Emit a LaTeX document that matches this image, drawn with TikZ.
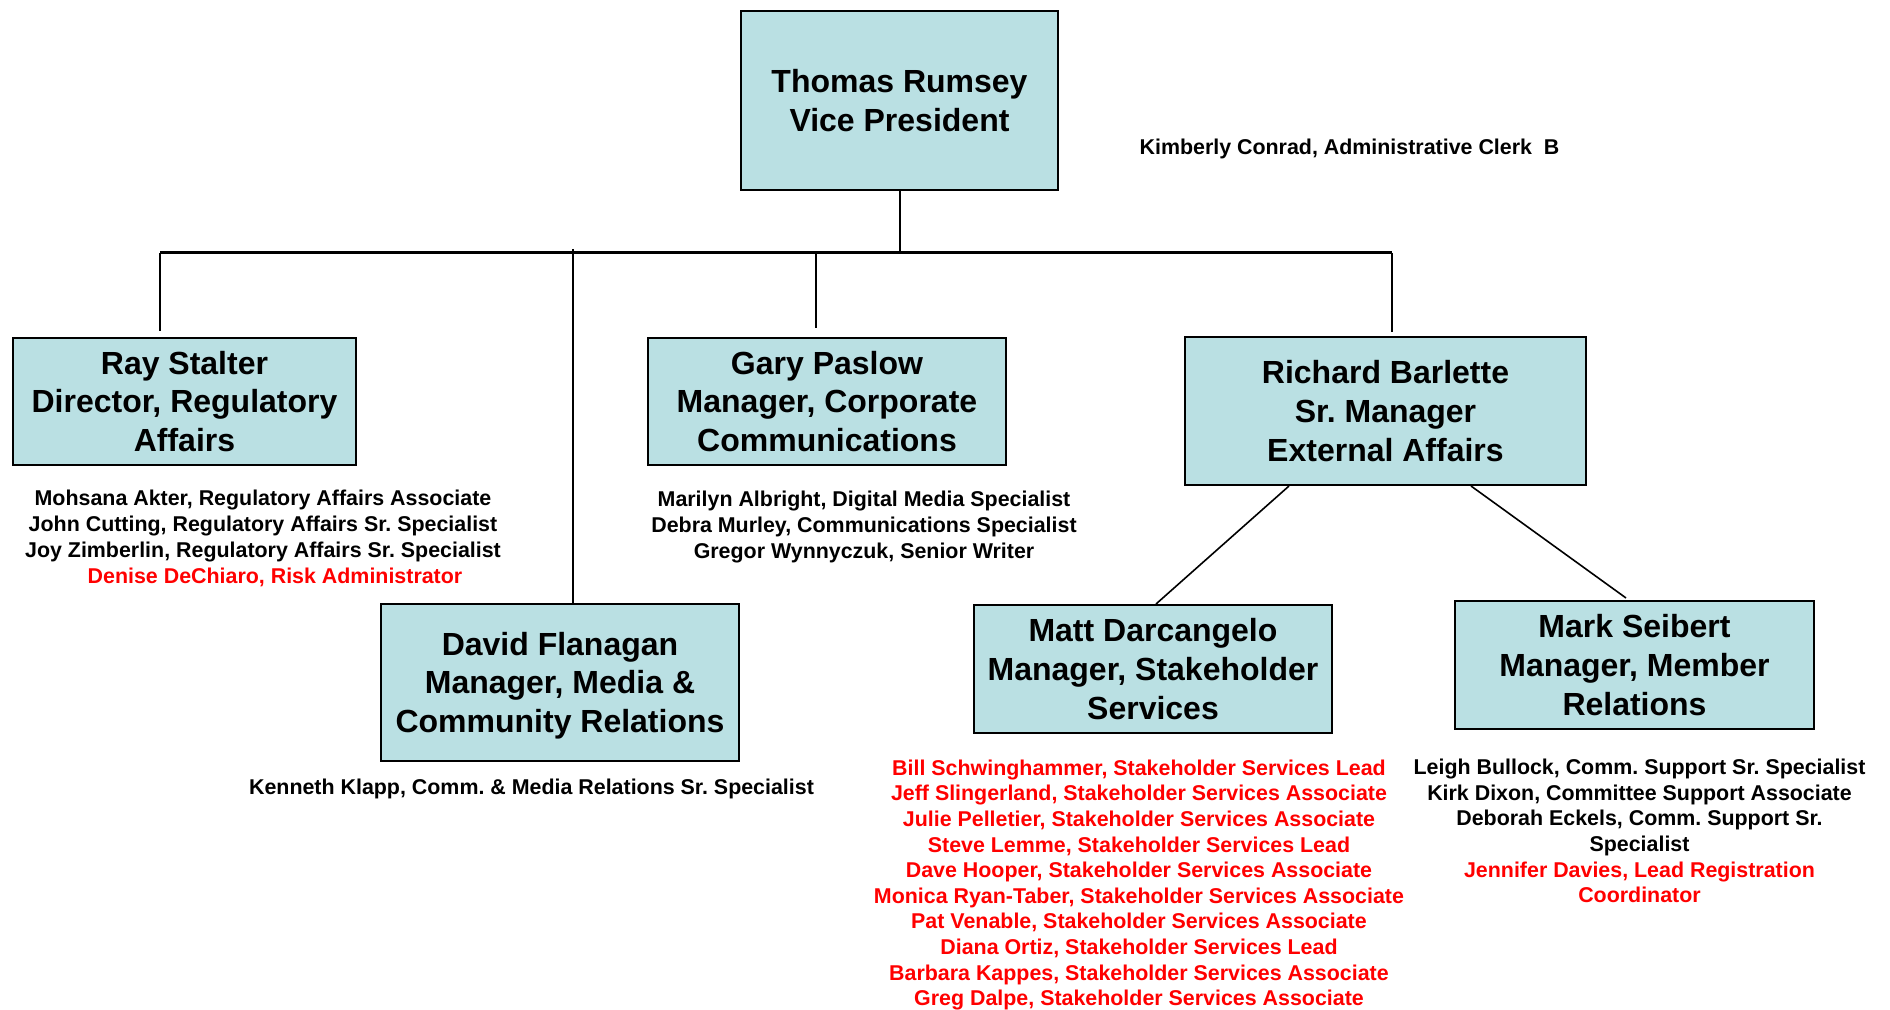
\documentclass[tikz,border=0pt]{standalone}
\usepackage{fontspec}
\setmainfont{Liberation Sans}
\usetikzlibrary{positioning}
\definecolor{boxfill}{RGB}{186,224,227}
\definecolor{staffred}{RGB}{255,0,0}
\frenchspacing

\begin{document}
\begin{tikzpicture}[x=0.5pt,y=-0.5pt,
    post/.style = {align=center, text centered,
        font=\bfseries\fontsize{16}{19.3}\selectfont,rectangle,draw=black,
        fill=boxfill,line width=1pt,inner sep=0pt},
    staff/.style = {align=center, text centered,
        font=\bfseries\fontsize{10.7}{13.1}\selectfont,inner sep=0pt},
    tightstaff/.style = {staff, font=\bfseries\fontsize{10.7}{12.8}\selectfont},
    link/.style = {line width=1pt}, bus/.style = {line width=1.5pt}]
  \useasboundingbox (0,0) rectangle (1890,1010);
  % boxes
  \node[post, minimum width=158.5pt, minimum height=89.5pt] (thomas) at
  (899.5,100.5) {Thomas Rumsey\\Vice President};
  \node[post, minimum width=171.5pt, minimum height=63.5pt] (ray) at
  (184.5,401.5) {Ray Stalter\\Director, Regulatory\\Affairs};
  \node[post, minimum width=179pt, minimum height=63.5pt] (gary) at
  (827,401.5) {Gary Paslow\\Manager, Corporate\\Communications};
  \node[post, minimum width=200.5pt, minimum height=74pt] (richard) at
  (1385.5,411) {Richard Barlette\\Sr. Manager\\External Affairs};
  \node[post, minimum width=179pt, minimum height=78.5pt] (david) at
  (560,682.5) {\rule{0pt}{14.5pt}David Flanagan\\Manager, Media \&\\Community Relations};
  \node[post, minimum width=179pt, minimum height=64pt] (matt) at
  (1153,669) {Matt Darcangelo\\Manager, Stakeholder\\Services};
  \node[post, minimum width=179.5pt, minimum height=64pt] (mark) at
  (1634.5,665) {Mark Seibert\\Manager, Member\\Relations};
  % staff
  \node[staff] (clerk) at (1349.5,148.5) {Kimberly Conrad, Administrative Clerk~~B};
  \node[staff] (raystaff) at (263,538.5) {Mohsana Akter, Regulatory Affairs
    Associate\\John Cutting, Regulatory Affairs Sr. Specialist\\Joy
    Zimberlin, Regulatory Affairs Sr. Specialist\\\hspace*{12pt}\textcolor{staffred}{Denise
      DeChiaro, Risk Administrator}};
  \node[staff] (garystaff) at (864,527) {Marilyn Albright, Digital Media
    Specialist\\Debra Murley, Communications Specialist\\Gregor Wynnyczuk,
    Senior Writer};
  \node[staff] (davidstaff) at (531.5,788.5) {Kenneth Klapp, Comm. \& Media
    Relations Sr. Specialist};
  \node[tightstaff, text=staffred] (mattstaff) at (1139,885) {Bill
    Schwinghammer, Stakeholder Services Lead\\Jeff Slingerland, Stakeholder
    Services Associate\\Julie Pelletier, Stakeholder Services
    Associate\\Steve Lemme, Stakeholder Services Lead\\Dave Hooper,
    Stakeholder Services Associate\\Monica Ryan-Taber, Stakeholder Services
    Associate\\Pat Venable, Stakeholder Services Associate\\Diana Ortiz,
    Stakeholder Services Lead\\Barbara Kappes, Stakeholder Services
    Associate\\Greg Dalpe, Stakeholder Services Associate};
  \node[tightstaff] (markstaff) at (1639.5,831) {Leigh Bullock, Comm. Support
    Sr. Specialist\\Kirk Dixon, Committee Support Associate\\Deborah
    Eckels, Comm. Support Sr.\\Specialist\\\textcolor{staffred}{Jennifer
      Davies, Lead Registration}\\\textcolor{staffred}{Coordinator}};
  % connectors
  \coordinate (busL) at (160,253); \coordinate (busR) at (1392,253);
  \coordinate (dtop) at (573,249);
  \draw[bus] (busL) -- (busR);
  \draw[link] (thomas.south) -- (thomas.south |- busL);
  \draw[link] (busL) -- ([yshift=3pt]ray.north -| busL);
  \draw[link] ([xshift=-5.5pt]gary.north |- busL) --
  ([xshift=-5.5pt,yshift=4.5pt]gary.north);
  \draw[link] (busR) -- ([yshift=2pt]richard.north -| busR);
  \draw[link] (dtop) -- (dtop |- david.north);
  \draw[line width=0.8pt] ([xshift=-48.25pt]richard.south) --
  ([xshift=1.5pt]matt.north);
  \draw[line width=0.8pt] ([xshift=42.75pt]richard.south) --
  ([xshift=-4.25pt,yshift=1pt]mark.north);
\end{tikzpicture}
\end{document}
